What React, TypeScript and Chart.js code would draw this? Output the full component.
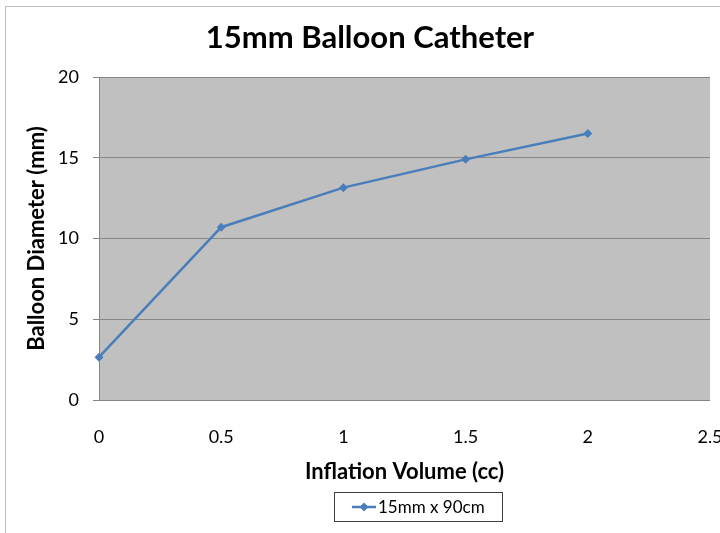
import React, { useEffect, useRef } from "react";
import { Chart, registerables } from "chart.js";

Chart.register(...registerables);

const chartTitle = "15mm Balloon Catheter";
const xAxisTitle = "Inflation Volume (cc)";
const yAxisTitle = "Balloon Diameter (mm)";
const seriesName = "15mm x 90cm";
const volumes = [0, 0.5, 1, 1.5, 2];
const diameters = [2.65, 10.7, 13.15, 14.9, 16.5];
const xMin = 0;
const xMax = 2.5;
const xStep = 0.5;
const yMin = 0;
const yMax = 20;
const yStep = 5;

const FONT = "Lato, 'Open Sans', sans-serif";
const LINE_COLOR = "#4A7EBB";
const GRID_COLOR = "#868686";

const decorPlugin = {
  id: "decor",
  beforeDraw(chart: any) {
    const { ctx, chartArea } = chart;
    ctx.save();
    ctx.fillStyle = "#ffffff";
    ctx.fillRect(0, 0, chart.width, chart.height);
    ctx.strokeStyle = "#BFBFBF";
    ctx.lineWidth = 1;
    ctx.strokeRect(5.5, 6.5, 900, 900);
    ctx.fillStyle = "#C0C0C0";
    ctx.fillRect(
      chartArea.left,
      chartArea.top,
      chartArea.right - chartArea.left,
      chartArea.bottom - chartArea.top
    );
    ctx.restore();
  },
  afterDraw(chart: any) {
    const ctx = chart.ctx;
    ctx.save();
    // title
    ctx.fillStyle = "#000000";
    ctx.font = `bold 31px ${FONT}`;
    ctx.textAlign = "center";
    ctx.textBaseline = "alphabetic";
    ctx.fillText(chartTitle, 370, 48);
    // legend
    const bx = 334.5, by = 492.5, bw = 168, bh = 29;
    ctx.strokeStyle = "#404040";
    ctx.lineWidth = 1;
    ctx.strokeRect(bx, by, bw, bh);
    const ly = 507;
    ctx.strokeStyle = LINE_COLOR;
    ctx.lineWidth = 2.5;
    ctx.beginPath();
    ctx.moveTo(352, ly);
    ctx.lineTo(376, ly);
    ctx.stroke();
    ctx.fillStyle = LINE_COLOR;
    ctx.beginPath();
    ctx.moveTo(364, ly - 4.5);
    ctx.lineTo(368.5, ly);
    ctx.lineTo(364, ly + 4.5);
    ctx.lineTo(359.5, ly);
    ctx.closePath();
    ctx.fill();
    ctx.fillStyle = "#000000";
    ctx.font = `17px ${FONT}`;
    ctx.textAlign = "left";
    ctx.fillText(seriesName, 378, 513);
    ctx.restore();
  },
};

export default function App() {
  const canvasRef = useRef<HTMLCanvasElement | null>(null);

  useEffect(() => {
    if (!canvasRef.current) return;
    const chart = new Chart(canvasRef.current, {
      type: "line",
      data: {
        datasets: [
          {
            label: seriesName,
            data: volumes.map((v, i) => ({ x: v, y: diameters[i] })),
            borderColor: LINE_COLOR,
            backgroundColor: LINE_COLOR,
            borderWidth: 2.5,
            pointStyle: "rectRot",
            pointRadius: 4.5,
            pointBorderWidth: 0,
            tension: 0,
            clip: false,
          },
        ],
      },
      options: {
        responsive: false,
        animation: false,
        layout: { padding: { left: 5, top: 77, right: 10, bottom: 0 } },
        plugins: {
          legend: { display: false },
          title: { display: false },
          tooltip: { enabled: false },
        },
        scales: {
          x: {
            type: "linear",
            min: xMin,
            max: xMax,
            ticks: {
              stepSize: xStep,
              padding: 26,
              color: "#000000",
              font: { family: FONT, size: 18 },
              maxRotation: 0,
              autoSkip: false,
              callback: (v: any) => String(v),
            },
            grid: { display: false, drawTicks: false },
            border: { display: false },
            title: {
              display: true,
              text: xAxisTitle,
              color: "#000000",
              font: { family: FONT, size: 22, weight: "bold" },
              padding: { top: 0, bottom: 48 },
            },
            afterFit(scale: any) {
              scale.height = 133;
              scale.paddingLeft = 0;
              scale.paddingRight = 0;
            },
          },
          y: {
            type: "linear",
            min: yMin,
            max: yMax,
            ticks: {
              stepSize: yStep,
              padding: 14,
              color: "#000000",
              font: { family: FONT, size: 18 },
              callback: (v: any) => String(v),
            },
            grid: {
              color: GRID_COLOR,
              lineWidth: 1,
              drawTicks: true,
              tickLength: 6,
            },
            border: { display: true, color: GRID_COLOR },
            title: {
              display: true,
              text: yAxisTitle,
              color: "#000000",
              font: { family: FONT, size: 22, weight: "bold" },
              padding: { top: 19, bottom: 0 },
            },
            afterFit(scale: any) {
              scale.width = 94;
              scale.paddingTop = 0;
              scale.paddingBottom = 0;
            },
          },
        },
      },
      plugins: [decorPlugin],
    } as any);
    return () => chart.destroy();
  }, []);

  return (
    <div style={{ position: "absolute", left: 0, top: 0, width: 720, height: 533, background: "#fff" }}>
      <canvas ref={canvasRef} width={720} height={533} />
    </div>
  );
}
